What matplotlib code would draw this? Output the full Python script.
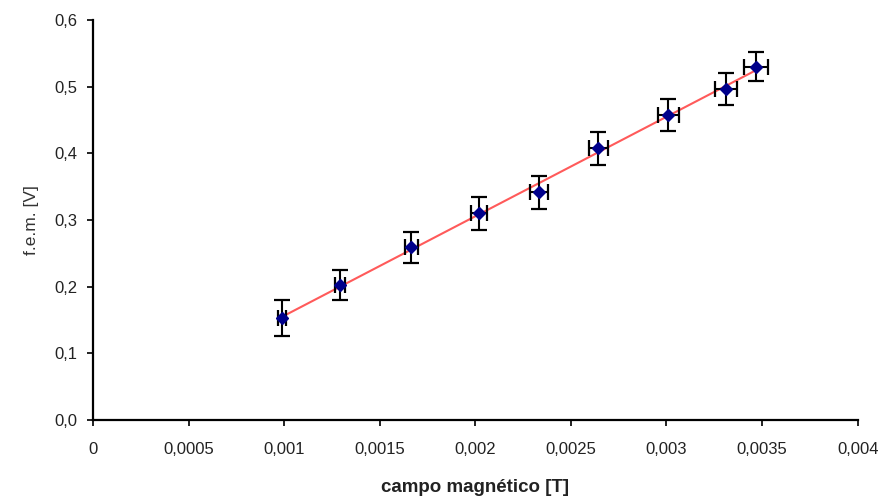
import numpy as np
import matplotlib.pyplot as plt
from matplotlib.ticker import FuncFormatter

plt.rcParams['font.family'] = ['Liberation Sans', 'DejaVu Sans']

# Measured points: magnetic field [T] vs induced emf [V]
campo = [0.000987, 0.001291, 0.001666, 0.00202, 0.002334, 0.002642, 0.003008, 0.003313, 0.00347]
fem = [0.153, 0.2025, 0.259, 0.310, 0.3415, 0.4075, 0.4575, 0.496, 0.530]
err_campo = [0.00002, 0.000026, 0.000033, 0.000041, 0.000046, 0.00005, 0.000055, 0.000058, 0.000063]
err_fem = [0.027, 0.023, 0.0235, 0.025, 0.025, 0.0245, 0.024, 0.024, 0.022]

x_ticks = [0, 0.0005, 0.001, 0.0015, 0.002, 0.0025, 0.003, 0.0035, 0.004]
y_ticks = [0.0, 0.1, 0.2, 0.3, 0.4, 0.5, 0.6]

# linear trendline over the measured range
pend, ord0 = np.polyfit(campo, fem, 1)
xt = np.array([min(campo), max(campo)])

fig = plt.figure(figsize=(8.86, 4.97), dpi=100)
ax = fig.add_axes([0.105, 0.155, 0.863, 0.805])

ax.plot(xt, pend * xt + ord0, color='#ff5a5a', lw=1.5, zorder=2)
ax.errorbar(campo, fem, xerr=err_campo, yerr=err_fem, fmt='none',
            ecolor='black', elinewidth=1.5, capsize=6, capthick=1.6, zorder=3)
ax.plot(campo, fem, 'D', color='#00008b', ms=6.5, zorder=4)

ax.set_xlim(0, 0.004)
ax.set_ylim(0, 0.6)
ax.set_xticks(x_ticks)
ax.set_yticks(y_ticks)
ax.xaxis.set_major_formatter(FuncFormatter(lambda v, p: '0' if v == 0 else ('%g' % v).replace('.', ',')))
ax.yaxis.set_major_formatter(FuncFormatter(lambda v, p: ('%.1f' % v).replace('.', ',')))

for s in ['top', 'right']:
    ax.spines[s].set_visible(False)
for s in ['left', 'bottom']:
    ax.spines[s].set_linewidth(1.6)
ax.tick_params(direction='out', length=4, width=1.4, labelsize=12, colors='#222222')
ax.tick_params(axis='x', pad=12)
ax.tick_params(axis='y', pad=7)

ax.set_xlabel('campo magnético [T]', fontsize=13.5, fontweight='bold', labelpad=16, color='#222222')
ax.set_ylabel('f.e.m. [V]', fontsize=12.5, labelpad=11, color='#333333')

fig.savefig('out.png', dpi=100)
